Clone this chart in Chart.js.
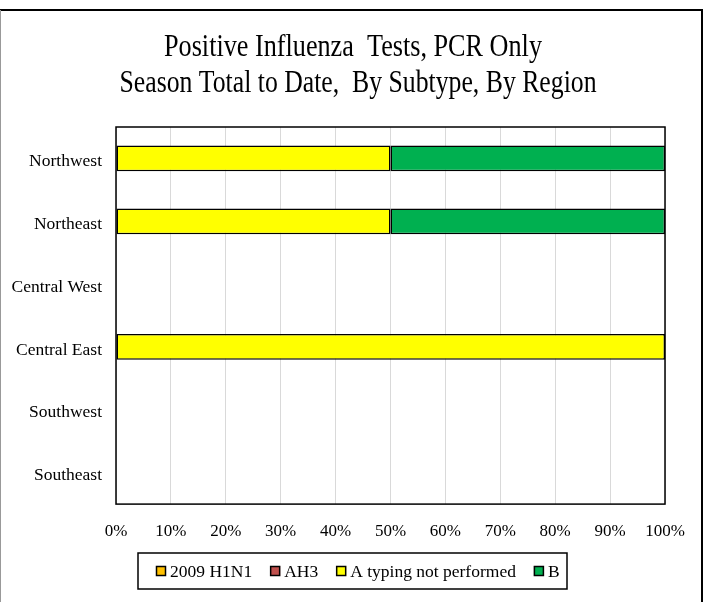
<!DOCTYPE html>
<html>
<head>
<meta charset="utf-8">
<script src="https://cdn.jsdelivr.net/npm/chart.js@4"></script>
<style>
  html, body { margin: 0; padding: 0; background: #fff; }
  #wrap { width: 710px; height: 602px; }
</style>
</head>
<body>
<div id="wrap"><canvas id="canvas" width="710" height="602"></canvas></div>
<script>
const regions = ["Northwest", "Northeast", "Central West", "Central East", "Southwest", "Southeast"];

const h1n1 = [0, 0, 0, 0, 0, 0];
const ah3 = [0, 0, 0, 0, 0, 0];
const aNotTyped = [50, 50, 0, 100, 0, 0];
const typeB = [50, 50, 0, 0, 0, 0];

const xTicks = [0, 10, 20, 30, 40, 50, 60, 70, 80, 90, 100];

const titleLines = ["Positive Influenza  Tests, PCR Only", "Season Total to Date,  By Subtype, By Region"];

const serif = "'Liberation Serif', 'Times New Roman', serif";

const canvas = document.getElementById("canvas");
const ctx = canvas.getContext("2d");

// title (condensed serif), outer frame, plot border and the boxed legend
const framePlugin = {
  id: "frame",
  afterDraw(chart) {
    const c = chart.ctx;
    const a = chart.chartArea;
    c.save();

    // outer frame
    c.strokeStyle = "#000";
    c.lineWidth = 2;
    c.beginPath();
    c.moveTo(0, 10);
    c.lineTo(702, 10);
    c.lineTo(702, 602);
    c.stroke();
    c.strokeStyle = "#999";
    c.lineWidth = 1;
    c.beginPath();
    c.moveTo(0.5, 10);
    c.lineTo(0.5, 602);
    c.stroke();

    // plot border
    c.strokeStyle = "#000";
    c.lineWidth = 1.5;
    c.strokeRect(a.left, a.top, a.right - a.left, a.bottom - a.top);

    // title
    c.fillStyle = "#000";
    c.font = "31px " + serif;
    c.textAlign = "center";
    c.textBaseline = "alphabetic";
    [[titleLines[0], 353, 56, 0.845], [titleLines[1], 358, 92, 0.83]].forEach(([t, cx, by, sx]) => {
      c.save();
      c.translate(cx, by);
      c.scale(sx, 1);
      c.fillText(t, 0, 0);
      c.restore();
    });

    // legend
    c.textAlign = "left";
    c.font = "17.5px " + serif;
    c.textBaseline = "middle";
    const items = chart.data.datasets.map((d) => ({ text: d.label, color: d.backgroundColor }));
    const box = 10, gap = 4, spacing = 18;
    const lx = 138, ly = 553, lw = 429, lh = 36;
    c.lineWidth = 1.5;
    c.strokeRect(lx, ly, lw, lh);
    let x = lx + 18;
    const cy = ly + lh / 2 + 1;
    items.forEach((it) => {
      c.fillStyle = it.color;
      c.fillRect(x, cy - box / 2 - 1, box, box);
      c.lineWidth = 1.5;
      c.strokeStyle = "#000";
      c.strokeRect(x + 0.5, cy - box / 2 - 0.5, box - 1, box - 1);
      c.fillStyle = "#000";
      c.fillText(it.text, x + box + gap, cy);
      x += box + gap + c.measureText(it.text).width + spacing;
    });
    c.restore();
  },
};

const ds = (label, data, color) => ({
  label,
  data,
  backgroundColor: color,
  borderColor: "#000",
  borderWidth: 1.5,
  borderSkipped: false,
  categoryPercentage: 1,
  barPercentage: 0.41,
});

new Chart(ctx, {
  type: "bar",
  data: {
    labels: regions,
    datasets: [
      ds("2009 H1N1", h1n1, "#FFC000"),
      ds("AH3", ah3, "#C0504D"),
      ds("A typing not performed", aNotTyped, "#FFFF00"),
      ds("B", typeB, "#00B050"),
    ],
  },
  options: {
    indexAxis: "y",
    responsive: false,
    animation: false,
    layout: { padding: { left: 12, right: 45, top: 127, bottom: 42.5 } },
    plugins: {
      legend: { display: false },
      tooltip: { enabled: false },
      title: { display: false },
    },
    scales: {
      x: {
        stacked: true,
        min: 0,
        max: 100,
        afterBuildTicks: (axis) => { axis.ticks = xTicks.map((v) => ({ value: v })); },
        ticks: {
          color: "#000",
          font: { family: serif, size: 17 },
          padding: 17.5,
          maxRotation: 0,
          callback: (v) => v + "%",
        },
        grid: { color: "#d9d9d9", lineWidth: 1, drawTicks: false },
        border: { display: false },
      },
      y: {
        stacked: true,
        afterFit: (axis) => { axis.width = 104; },
        ticks: { color: "#000", font: { family: serif, size: 17.5 }, padding: 14, labelOffset: 3 },
        grid: { display: false, drawTicks: false },
        border: { display: false },
      },
    },
  },
  plugins: [framePlugin],
});
</script>
</body>
</html>
